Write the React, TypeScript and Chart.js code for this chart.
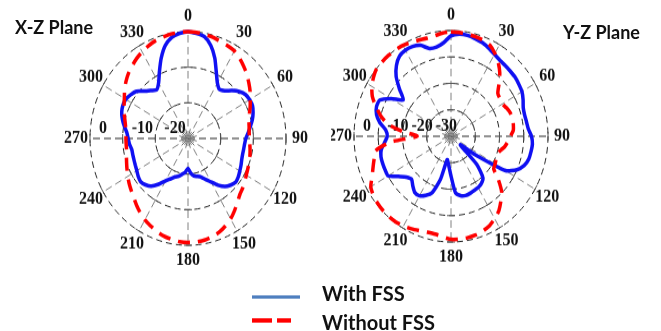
import React, { useEffect, useRef } from 'react';
import { Chart, registerables } from 'chart.js';

Chart.register(...registerables);

// Angles (degrees) of the sampled pattern points
const ANGLES = [
  0, 5, 10, 15, 20, 25, 30, 35, 40, 45, 50, 55, 60, 65, 70, 75, 80, 85,
  90, 95, 100, 105, 110, 115, 120, 125, 130, 135, 140, 145, 150, 155, 160, 165, 170, 175,
  180, 185, 190, 195, 200, 205, 210, 215, 220, 225, 230, 235, 240, 245, 250, 255, 260, 265,
  270, 275, 280, 285, 290, 295, 300, 305, 310, 315, 320, 325, 330, 335, 340, 345, 350, 355,
];

// Angle tick labels drawn around the rim
const ANGLE_TICK_LABELS = ['0', '30', '60', '90', '120', '150', '180', '210', '240', '270', '300', '330'];
// Short centre rays between the main spokes
const MINOR_RAY_ANGLES = ['15', '45', '75', '105', '135', '165', '195', '225', '255', '285', '315', '345'];

// Radial (dB) tick labels
const XZ_RING_TICKS = [0, -10, -20];
const YZ_RING_TICKS = [0, -10, -20, -30];

// X-Z plane (dB)
const XZ_WITH_FSS = [
  0, -0.4, -1.0, -3.0, -6.0, -9.5, -12.0, -13.2, -12.5, -11.0, -9.5, -8.5, -8.2, -8.2, -8.8, -9.6, -10.6, -11.5,
  -12.3, -12.6, -12.7, -12.7, -12.5, -12.1, -11.7, -11.2, -10.9, -11.5, -12.4, -14.0, -15.9, -17.3, -18.5, -19.0, -19.3, -20.2,
  -21.6, -20.5, -19.8, -19.0, -18.5, -17.5, -16.3, -14.3, -12.5, -11.6, -11.1, -11.4, -11.9, -12.2, -12.4, -12.5, -12.5, -12.0,
  -11.7, -11.2, -10.2, -9.2, -8.4, -8.0, -8.0, -8.6, -9.4, -11.2, -12.4, -13.3, -12.0, -9.3, -6.0, -3.0, -1.2, -0.4,
];
const XZ_WITHOUT_FSS = [
  0, -0.1, -0.3, -0.6, -1.0, -1.3, -1.6, -2.5, -3.5, -4.5, -5.7, -6.8, -8.0, -9.0, -10.0, -10.7, -11.0, -11.2,
  -11.2, -11.0, -10.7, -10.4, -10.1, -9.8, -9.4, -8.8, -8.2, -7.6, -6.5, -5.2, -3.9, -2.9, -2.0, -1.4, -1.0, -0.8,
  -0.8, -0.9, -1.2, -1.6, -2.2, -2.9, -3.6, -4.5, -5.5, -6.5, -7.3, -8.0, -8.7, -9.4, -10.0, -10.5, -10.9, -11.0,
  -11.0, -11.0, -10.6, -10.0, -9.2, -8.4, -7.5, -6.3, -5.2, -4.2, -3.4, -2.6, -1.9, -1.3, -0.8, -0.5, -0.2, -0.1,
];

// Y-Z plane (dB)
const YZ_WITH_FSS = [
  -2.0, -1.2, -1.2, -1.7, -2.3, -3.2, -4.2, -4.9, -5.1, -5.3, -5.4, -5.8, -6.2, -7.2, -8.3, -8.6, -8.4, -8.0,
  -6.8, -6.3, -6.5, -6.8, -7.8, -10.0, -14.0, -28.0, -35.0, -25.0, -19.5, -18.2, -17.6, -17.4, -17.0, -16.8, -17.2, -18.5,
  -25.0, -29.0, -31.0, -23.0, -17.3, -15.3, -14.0, -14.0, -15.5, -17.0, -16.0, -13.5, -10.1, -10.0, -10.0, -10.1, -10.8, -12.5,
  -13.7, -13.0, -10.2, -8.2, -7.3, -7.6, -11.5, -16.0, -12.3, -8.0, -5.0, -3.0, -2.4, -2.5, -3.4, -5.6, -5.7, -4.5,
];
const YZ_WITHOUT_FSS = [
  -0.5, -0.6, -0.8, -1.0, -1.3, -2.0, -3.8, -6.0, -8.7, -12.0, -14.8, -15.3, -15.5, -14.7, -14.0, -13.7, -13.9, -14.2,
  -15.5, -16.5, -17.5, -19.0, -19.9, -19.5, -19.0, -18.5, -14.5, -10.5, -8.0, -5.6, -4.0, -2.6, -1.8, -1.3, -1.0, -0.9,
  -1.0, -1.8, -2.4, -2.4, -2.0, -1.4, -0.8, -0.4, -0.3, -0.3, -0.5, -0.9, -1.8, -4.1, -5.8, -7.2, -8.4, -15.0,
  -26.0, -20.0, -13.5, -10.0, -7.0, -4.2, -2.3, -1.0, 0, 0, 0, -0.1, -0.3, -0.8, -1.3, -1.6, -1.4, -0.8,
];

const BLUE = '#1010f2';
const RED = '#ff0000';
const STRETCH_Y = 1.09;

function makeLabelPlugin(ringTicks: number[]) {
  return {
    id: 'polarLabels',
    beforeDatasetsDraw(chart: any) {
      const s = chart.scales.r;
      const ctx = chart.ctx;
      ctx.save();

      // perpendicular tick marks where the main spokes cross the rings
      ctx.strokeStyle = '#555555';
      ctx.lineWidth = 1;
      ctx.setLineDash([]);
      ANGLE_TICK_LABELS.forEach((lbl) => {
        const idx = ANGLES.indexOf(Number(lbl));
        const a = s.getIndexAngle(idx) - Math.PI / 2;
        const px = -Math.sin(a);
        const py = Math.cos(a);
        s.ticks.forEach((t: any) => {
          const d = s.getDistanceFromCenterForValue(t.value);
          if (d < 5) return;
          const p = s.getPointPosition(idx, d);
          ctx.beginPath();
          ctx.moveTo(p.x - px * 4, p.y - py * 4);
          ctx.lineTo(p.x + px * 4, p.y + py * 4);
          ctx.stroke();
        });
      });
      // short rays at the centre
      ctx.strokeStyle = '#707070';
      MINOR_RAY_ANGLES.forEach((lbl) => {
        const idx = ANGLES.indexOf(Number(lbl));
        const p1 = s.getPointPosition(idx, 2);
        const p2 = s.getPointPosition(idx, 9);
        ctx.beginPath();
        ctx.moveTo(p1.x, p1.y);
        ctx.lineTo(p2.x, p2.y);
        ctx.stroke();
      });

      ctx.fillStyle = '#111111';
      ctx.font = 'bold 16px "Liberation Serif", "Times New Roman", serif';
      ctx.textAlign = 'center';
      ctx.textBaseline = 'middle';
      ANGLE_TICK_LABELS.forEach((lbl) => {
        const idx = ANGLES.indexOf(Number(lbl));
        const p = s.getPointPosition(idx, s.drawingArea + 14);
        ctx.fillText(lbl, p.x, p.y);
      });
      ctx.textAlign = 'left';
      ringTicks.forEach((v) => {
        const d = s.getDistanceFromCenterForValue(v);
        ctx.fillText(String(v), s.xCenter - d + 9, s.yCenter - 9);
      });
      ctx.restore();
    },
  };
}

type PlotProps = {
  withFss: number[];
  withoutFss: number[];
  ringTicks: number[];
  min: number;
  pad: { left: number; right: number; top: number; bottom: number };
  left: number;
  width: number;
  height: number;
};

function PolarPlot({ withFss, withoutFss, ringTicks, min, pad, left, width, height }: PlotProps) {
  const ref = useRef<HTMLCanvasElement>(null);
  useEffect(() => {
    const chart = new Chart(ref.current as HTMLCanvasElement, {
      type: 'radar',
      data: {
        labels: ANGLES.map(String),
        datasets: [
          {
            label: 'With FSS',
            data: withFss,
            borderColor: BLUE,
            borderWidth: 3.5,
            pointRadius: 0,
            fill: false,
            tension: 0.2,
            order: 1,
          },
          {
            label: 'Without FSS',
            data: withoutFss,
            borderColor: RED,
            borderWidth: 3.5,
            borderDash: [12, 8],
            pointRadius: 0,
            fill: false,
            tension: 0.2,
            order: 0,
          },
        ],
      },
      options: {
        responsive: false,
        animation: false,
        layout: { padding: pad },
        plugins: { legend: { display: false }, tooltip: { enabled: false } },
        scales: {
          r: {
            min,
            max: 0,
            ticks: { display: false, stepSize: 10 },
            pointLabels: { display: false },
            grid: { circular: true, color: '#222222', lineWidth: 1, borderDash: [6, 4] } as any,
            border: { dash: [6, 4] } as any,
            angleLines: {
              display: true,
              color: (c: any) => {
                if (c.index % 6 !== 0) return 'rgba(0,0,0,0)';
                return ANGLES[c.index] % 180 === 90 ? '#222222' : '#808080';
              },
              lineWidth: (c: any) => (c.index % 6 === 0 ? 1 : 0),
              borderDash: [7, 4],
            },
          },
        },
      } as any,
      plugins: [makeLabelPlugin(ringTicks)],
    });
    return () => chart.destroy();
  }, []);
  return (
    <canvas
      ref={ref}
      width={width}
      height={height}
      style={{ position: 'absolute', left, top: 0, width, height }}
    />
  );
}

export default function App() {
  const titleStyle: React.CSSProperties = {
    position: 'absolute',
    fontFamily: 'Lato, "Open Sans", sans-serif',
    fontWeight: 700,
    fontSize: 18,
    lineHeight: '18px',
    color: '#111',
    whiteSpace: 'nowrap',
  };
  const legendText: React.CSSProperties = {
    position: 'absolute',
    fontFamily: 'Lato, "Open Sans", sans-serif',
    fontWeight: 700,
    fontSize: 20,
    lineHeight: '20px',
    color: '#111',
    whiteSpace: 'nowrap',
    left: 322,
  };
  return (
    <div style={{ position: 'fixed', left: 0, top: 0, width: 661, height: 331, background: '#fff', overflow: 'hidden' }}>
      <div
        style={{
          position: 'absolute',
          left: 0,
          top: 0,
          width: 661,
          height: 304,
          transform: `scaleY(${STRETCH_Y})`,
          transformOrigin: '0 0',
        }}
      >
        <PolarPlot
          withFss={XZ_WITH_FSS}
          withoutFss={XZ_WITHOUT_FSS}
          ringTicks={XZ_RING_TICKS}
          min={-30}
          pad={{ left: 90, right: 44, top: 29, bottom: 35 }}
          left={0}
          width={330}
          height={260}
        />
        <PolarPlot
          withFss={YZ_WITH_FSS}
          withoutFss={YZ_WITHOUT_FSS}
          ringTicks={YZ_RING_TICKS}
          min={-40}
          pad={{ left: 23, right: 113, top: 28, bottom: 38 }}
          left={331}
          width={330}
          height={260}
        />
        <div style={{ ...titleStyle, left: 15, top: 15 }}>X-Z Plane</div>
        <div style={{ ...titleStyle, left: 563, top: 20 }}>Y-Z Plane</div>

        <div style={{ position: 'absolute', left: 252, top: 270.5, width: 48, height: 3, background: '#4f7fbf' }} />
        <div style={{ ...legendText, top: 258 }}>With FSS</div>

        <div style={{ position: 'absolute', left: 252, top: 292, width: 20, height: 3.5, background: RED }} />
        <div style={{ position: 'absolute', left: 277, top: 292, width: 14, height: 3.5, background: RED }} />
        <div style={{ ...legendText, top: 284.5 }}>Without FSS</div>
      </div>
    </div>
  );
}
